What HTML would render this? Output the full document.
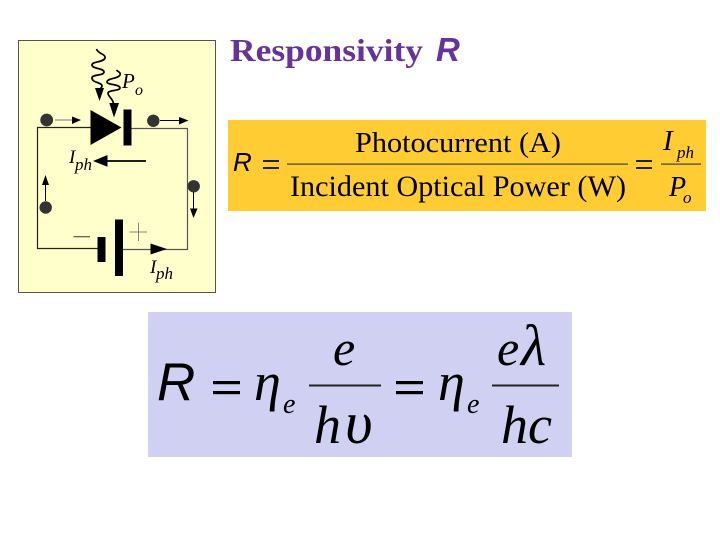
<!DOCTYPE html>
<html><head><meta charset="utf-8"><style>
html,body{margin:0;padding:0;background:#fff}
svg{display:block}
text{fill:#000}
.s{font-family:"Liberation Serif",serif}
.i{font-style:italic}
.a{font-family:"Liberation Sans",sans-serif;font-style:italic}
</style></head><body>
<svg width="720" height="540" viewBox="0 0 720 540" xmlns="http://www.w3.org/2000/svg">
<rect width="720" height="540" fill="#fff"/>
<!-- circuit panel -->
<rect x="18.500" y="40.500" width="197" height="252" fill="#ffffcc" stroke="#55554a" stroke-width="1"/>
<g fill="none" stroke-width="1.200">
<path d="M91 127.500H37.500V248.500H98" stroke="#222"/>
<path d="M131 128.500H187.500V249.500H123" stroke="#555"/>
</g>
<path d="M90.500 110V145L121.500 127.500Z" fill="#000"/>
<rect x="123.500" y="109.500" width="8" height="36" fill="#000"/>
<rect x="97.500" y="237" width="8" height="25" fill="#000"/>
<rect x="115" y="219.500" width="8" height="56.500" fill="#000"/>
<g fill="#333"><circle cx="46.700" cy="120" r="6.400"/><circle cx="153.300" cy="120.800" r="6.200"/><circle cx="193.700" cy="186.300" r="6.200"/><circle cx="45.700" cy="207.500" r="6.200"/></g>
<g fill="none" stroke="#000">
<path d="M96.500 49C98 54 106 54 105 58C103 63 92 61 92 65C92 69 104 68 104 72C104 76 92 74 92 78C92 83 102 82 102 86C102 88 99 89 99 91" stroke-width="1.700"/>
<path d="M116.500 70C118 72 121 72 120 75C118 79 107 78 107 82C107 85 120 84 120 88C120 91 108 90 108 93C108 97 113 98 113.500 104" stroke-width="1.700"/>
<path d="M55 120H72" stroke="#777"/><path d="M160 120.500H180"/><path d="M193.500 192V210"/><path d="M45.500 201V184"/>
<path d="M146 161H107" stroke-width="1.800"/>
<path d="M73.500 236.700H90" stroke="#333"/>
<path d="M138.500 222.500V241M129.500 232H147" stroke="#666" stroke-width=".8"/>
</g>
<g fill="#000">
<path d="M95 88H104L99.500 101Z"/>
<path d="M109.300 103H119L114 117.500Z"/>
<path d="M72 116.500V124L81 120Z"/>
<path d="M179 117V124.500L188.500 120.500Z"/>
<path d="M190 208.500H197.500L193.500 218Z"/>
<path d="M42 185H49L45.500 175Z"/>
<path d="M107.500 155V166.800L93 161Z"/>
<path d="M150.500 243.500V254.500L167 249Z"/>
</g>
<g class="s i">
<text x="122" y="88" font-size="21">P</text><text x="135" y="95" font-size="16">o</text>
<text x="69" y="163" font-size="19">I</text><text x="75" y="170" font-size="17">ph</text>
<text x="150" y="273" font-size="19">I</text><text x="156" y="279" font-size="17">ph</text>
</g>
<!-- title -->
<text x="230" y="61" class="s" font-size="32" font-weight="bold" style="fill:#663399" textLength="193" lengthAdjust="spacingAndGlyphs">Responsivity</text>
<text x="436" y="61" class="a" font-size="33" font-weight="bold" style="fill:#663399">R</text>
<!-- yellow formula -->
<rect x="228" y="120" width="478" height="91" fill="#ffcc33"/>
<text x="233" y="171" class="a" font-size="26">R</text>
<g fill="#222"><rect x="263" y="160" width="16" height="2"/><rect x="263" y="167" width="16" height="2"/>
<rect x="636" y="160" width="16" height="2"/><rect x="636" y="167" width="16" height="2"/></g>
<rect x="287" y="163.500" width="341" height="1.200" fill="#443"/>
<text x="355" y="152" class="s" font-size="29" textLength="206" lengthAdjust="spacingAndGlyphs">Photocurrent (A)</text>
<text x="290" y="196" class="s" font-size="30" textLength="336" lengthAdjust="spacingAndGlyphs">Incident Optical Power (W)</text>
<rect x="661" y="163.500" width="40" height="1.200" fill="#443"/>
<g class="s i">
<text x="663" y="150" font-size="29">I</text><text x="677" y="158" font-size="17">ph</text>
<text x="669" y="196" font-size="28">P</text><text x="683" y="203" font-size="17">o</text>
</g>
<!-- blue formula -->
<rect x="148" y="312" width="424" height="145" fill="#d0d0f2"/>
<text x="157" y="400" class="a" font-size="53">R</text>
<rect x="213" y="381" width="27" height="3.200" fill="#000"/><rect x="213" y="391" width="27" height="3.200" fill="#000"/>
<rect x="396" y="381" width="27" height="3.200" fill="#000"/><rect x="396" y="391" width="27" height="3.200" fill="#000"/>
<rect x="309" y="384.500" width="72" height="2" fill="#222"/>
<rect x="492" y="384.500" width="67" height="2" fill="#222"/>
<g class="s i">
<text x="254" y="400" font-size="54">η</text><text x="283" y="413" font-size="28">e</text>
<text x="333" y="365" font-size="50">e</text>
<text x="314" y="443" font-size="54">h</text><text x="345" y="443" font-size="60">υ</text>
<text x="438" y="400" font-size="54">η</text><text x="467" y="413" font-size="28">e</text>
<text x="497" y="365" font-size="50">e</text><text x="521" y="365" font-size="58">λ</text>
<text x="501" y="443" font-size="54">hc</text>
</g>
</svg>
</body></html>
